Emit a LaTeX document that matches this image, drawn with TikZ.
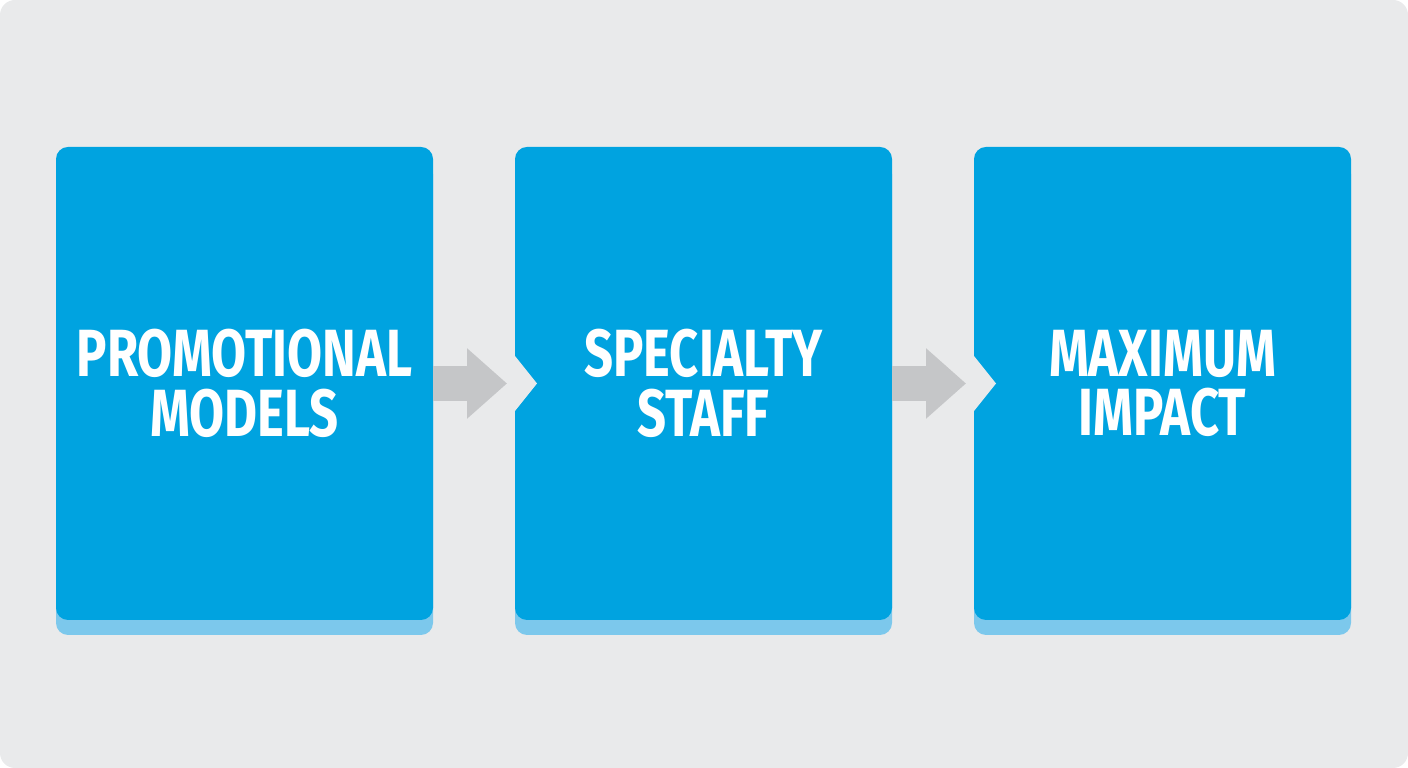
\documentclass[tikz,border=0pt]{standalone}
\usepackage{fontspec}
\newfontfamily\stagefont{Fira Sans}[FakeStretch=0.76]
\usepackage{xcolor}
\usepackage{tikz}
\usetikzlibrary{positioning}
\usetikzlibrary{shadows}
\usetikzlibrary{arrows.meta}
\definecolor{panelgray}{HTML}{E9EAEB}
\definecolor{boxblue}{HTML}{00A3E0}
\definecolor{boxshade}{HTML}{7CC8EC}
\definecolor{arrowgray}{HTML}{C5C6C8}
\tikzset{
  stage/.style={minimum width=3.77cm, minimum height=4.73cm, inner sep=0pt, outer sep=0pt,
    fill=boxblue, rounded corners=1.2mm, text=white, align=center,
    font=\stagefont\bfseries\fontsize{19}{17}\selectfont,
    drop shadow={shadow xshift=0cm, shadow yshift=-1.5mm, fill=boxshade, opacity=1}},
  flow/.style={draw=arrowgray, line width=3.5mm,
    -{Triangle[length=4mm,width=6.8mm]}, shorten >=0.8mm},
  notch/.style={fill=panelgray}
}

\begin{document}
\begin{tikzpicture}
\useasboundingbox (0,0) rectangle (14.08,7.68);
\fill[panelgray, rounded corners=1.5mm] (0,0) rectangle (14.08,7.68);

\node (promo) 
	[stage] at (2.445,3.845)
	{PROMOTIONAL\\MODELS};
\node (staff) 
	[stage, right=0.82cm of promo] 
	{SPECIALTY\\STAFF};
\node (impact) 
	[stage, right=0.82cm of staff] 
	{MAXIMUM\\IMPACT};

% chevron cut-outs
\fill[notch] ([shift={(-0.02,0.30)}]staff.west) -- ([shift={(0.22,0)}]staff.west) 
	-- ([shift={(-0.02,-0.30)}]staff.west) -- cycle;
\fill[notch] ([shift={(-0.02,0.30)}]impact.west) -- ([shift={(0.22,0)}]impact.west) 
	-- ([shift={(-0.02,-0.30)}]impact.west) -- cycle;

\draw[flow] (promo.east) -- (staff.west);
\draw[flow] (staff.east) -- (impact.west);
\end{tikzpicture}
\end{document}
